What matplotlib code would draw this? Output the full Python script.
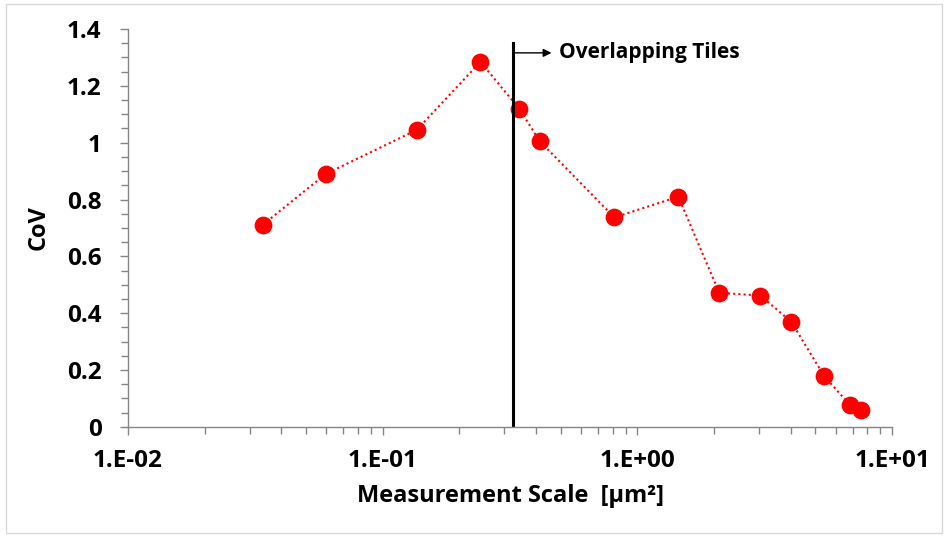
import math
import matplotlib.pyplot as plt
from matplotlib.ticker import FixedLocator, FuncFormatter, LogLocator, MultipleLocator, NullFormatter
from matplotlib.patches import Rectangle

plt.rcParams['font.family'] = ['Open Sans', 'DejaVu Sans']
plt.rcParams['font.weight'] = 'bold'

scale = [0.0338, 0.0598, 0.136, 0.242, 0.344, 0.413, 0.812, 1.448,
         2.097, 3.04, 4.02, 5.41, 6.84, 7.56]
cov = [0.711, 0.890, 1.045, 1.284, 1.119, 1.006, 0.737, 0.810,
       0.472, 0.462, 0.370, 0.179, 0.077, 0.060]

x_ticks = [1e-2, 1e-1, 1e0, 1e1]
y_ticks = [0, 0.2, 0.4, 0.6, 0.8, 1, 1.2, 1.4]

overlap_x = 0.324
overlap_top = 1.35

fig = plt.figure(figsize=(9.48, 5.37), dpi=100)
ax = fig.add_axes([0.135, 0.205, 0.806, 0.741])

ax.plot(scale, cov, color='#ff0000', linestyle=(0, (1, 1.5)), linewidth=1.5,
        marker='o', markersize=11.8, markerfacecolor='#ff0000', markeredgecolor='#ff0000')

# boundary where tiles start to overlap
ax.plot([overlap_x, overlap_x], [0, overlap_top], color='black', linewidth=2.2)
ax.annotate('', xy=(0.46, 1.316), xytext=(overlap_x, 1.316),
            arrowprops=dict(arrowstyle='-|>', color='black', lw=1, mutation_scale=12,
                            shrinkA=0, shrinkB=0))
ax.text(0.494, 1.316, 'Overlapping Tiles', fontsize=15, fontweight='bold',
        va='center', ha='left')

ax.set_xscale('log')
ax.set_xlim(1e-2, 1e1)
ax.set_ylim(0, 1.4)
ax.xaxis.set_major_locator(FixedLocator(x_ticks))
ax.xaxis.set_major_formatter(FuncFormatter(lambda v, p: '1.E%+03d' % round(math.log10(v))))
ax.xaxis.set_minor_locator(LogLocator(base=10, subs=range(2, 10), numticks=20))
ax.xaxis.set_minor_formatter(NullFormatter())
ax.yaxis.set_major_locator(FixedLocator(y_ticks))
ax.yaxis.set_major_formatter(FuncFormatter(lambda v, p: ('%g' % v)))
ax.yaxis.set_minor_locator(MultipleLocator(0.05))

for s in ['top', 'right']:
    ax.spines[s].set_visible(False)
for s in ['left', 'bottom']:
    ax.spines[s].set_color('#868686')
    ax.spines[s].set_linewidth(1)

ax.tick_params(which='both', direction='out', color='#868686', width=1)
ax.tick_params(which='major', length=6, labelsize=17.5)
ax.tick_params(axis='y', which='major', pad=13)
ax.tick_params(axis='x', which='major', pad=10)
ax.tick_params(which='minor', length=5)
for lab in ax.get_xticklabels() + ax.get_yticklabels():
    lab.set_fontweight('bold')

ax.set_xlabel('Measurement Scale  [\u03bcm\u00b2]', fontsize=17, fontweight='bold', labelpad=8)
ax.set_ylabel('CoV', fontsize=17, fontweight='bold', labelpad=12)

fig.patches.append(Rectangle((0.006, 0.008), 0.988, 0.984, transform=fig.transFigure,
                             fill=False, edgecolor='#d9d9d9', linewidth=1))

fig.savefig('out.png', dpi=100)
